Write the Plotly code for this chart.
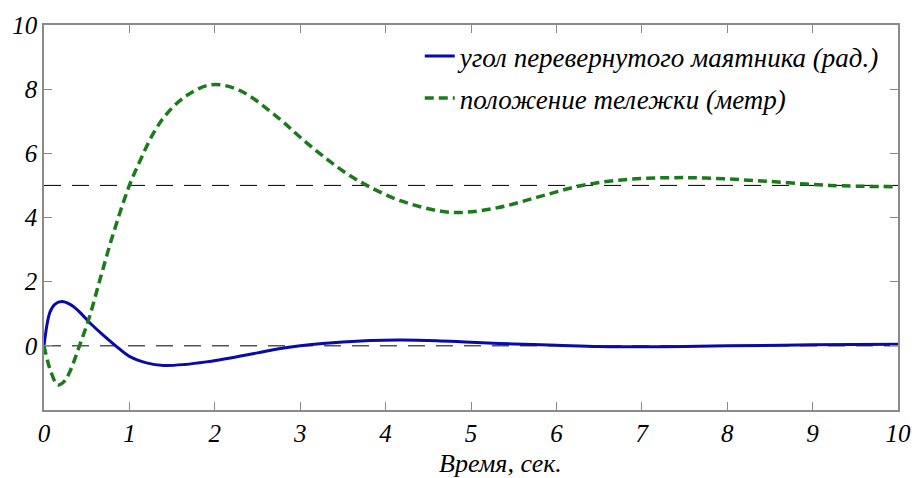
import plotly.graph_objects as go

# --- data ---
t_angle = [0, 0.07, 0.13, 0.21, 0.3, 0.4, 0.55, 0.7, 0.84, 1.0, 1.2, 1.4,
           1.65, 1.9, 2.2, 2.5, 2.75, 3.0, 3.5, 4.15, 4.6, 5.0, 5.5, 6.0, 6.5,
           7.0, 7.5, 8.0, 9.0, 10.0]
angle = [0, 1.05, 1.3, 1.38, 1.3, 1.1, 0.68, 0.32, 0.0, -0.33, -0.53, -0.61,
         -0.58, -0.5, -0.37, -0.22, -0.09, 0.0, 0.12, 0.18, 0.16, 0.11, 0.06, 0.02,
         -0.02, -0.03, -0.02, 0.0, 0.03, 0.05]

t_pos = [0, 0.04, 0.08, 0.16, 0.24, 0.31, 0.41, 0.53, 0.66, 0.8, 0.99, 1.13, 1.28,
         1.44, 1.67, 1.96, 2.29, 2.75, 3.0, 3.25, 3.5, 3.78, 4.2, 4.77, 5.3, 5.8,
         6.3, 6.8, 7.3, 7.75, 8.4, 9.2, 10.0]
pos = [0, -0.45, -0.8, -1.22, -1.1, -0.76, -0.04, 0.88, 2.11, 3.4, 4.93, 5.8, 6.62,
       7.24, 7.8, 8.14, 7.96, 7.09, 6.5, 5.95, 5.45, 5.0, 4.5, 4.16, 4.3, 4.65,
       5.0, 5.18, 5.24, 5.23, 5.14, 5.0, 4.96]

ref_levels = [0, 5]
x_ticks = list(range(0, 11))
y_ticks = [0, 2, 4, 6, 8, 10]

name_angle = "угол перевернутого маятника (рад.)"
name_pos = "положение тележки (метр)"
x_title = "Время, сек."

FONT = "Liberation Serif"
AXIS_COLOR = "#8a8a8a"


def it(s):
    return "<i>%s</i>" % s


fig = go.Figure()

for lvl in ref_levels:
    fig.add_trace(go.Scatter(
        x=[0, 10], y=[lvl, lvl], mode="lines",
        line=dict(color="black", width=1, dash="17px,11px"),
        showlegend=False, hoverinfo="skip"))

fig.add_trace(go.Scatter(
    x=t_angle, y=angle, mode="lines", name=it(name_angle), legendgroup="a",
    line=dict(color="#0a0aa8", width=3, shape="spline", smoothing=1.0)))
fig.add_trace(go.Scatter(
    x=t_pos, y=pos, mode="lines", name=it(name_pos), legendgroup="b",
    line=dict(color="#1b7a1b", width=3.5, dash="9px,5px", shape="spline", smoothing=1.0)))

fig.add_annotation(x=0.535, y=-0.14, xref="paper", yref="paper", showarrow=False,
                   xanchor="center", yanchor="middle", text=it(x_title),
                   font=dict(family=FONT, size=26, color="black"))

fig.update_layout(
    width=923, height=478,
    margin=dict(l=43, r=19, t=20, b=68),
    paper_bgcolor="white", plot_bgcolor="white",
    xaxis=dict(range=[0, 10], tickvals=x_ticks, ticktext=[it(v) for v in x_ticks],
               showline=True, linecolor=AXIS_COLOR, linewidth=1.5, mirror="ticks",
               ticks="inside", ticklen=8, tickwidth=1, tickcolor=AXIS_COLOR,
               showgrid=False, zeroline=False,
               tickfont=dict(family=FONT, size=25, color="black")),
    yaxis=dict(range=[-2, 10], tickvals=y_ticks, ticktext=[it(v) for v in y_ticks],
               showline=True, linecolor=AXIS_COLOR, linewidth=1.5, mirror="ticks",
               ticks="inside", ticklen=8, tickwidth=1, tickcolor=AXIS_COLOR,
               showgrid=False, zeroline=False,
               tickfont=dict(family=FONT, size=25, color="black")),
    legend=dict(x=0.44, y=0.982, xanchor="left", yanchor="top",
                bgcolor="rgba(0,0,0,0)", borderwidth=0,
                font=dict(family=FONT, size=27, color="black"),
                traceorder="grouped", tracegroupgap=4),
)

fig.write_html("out.html")
